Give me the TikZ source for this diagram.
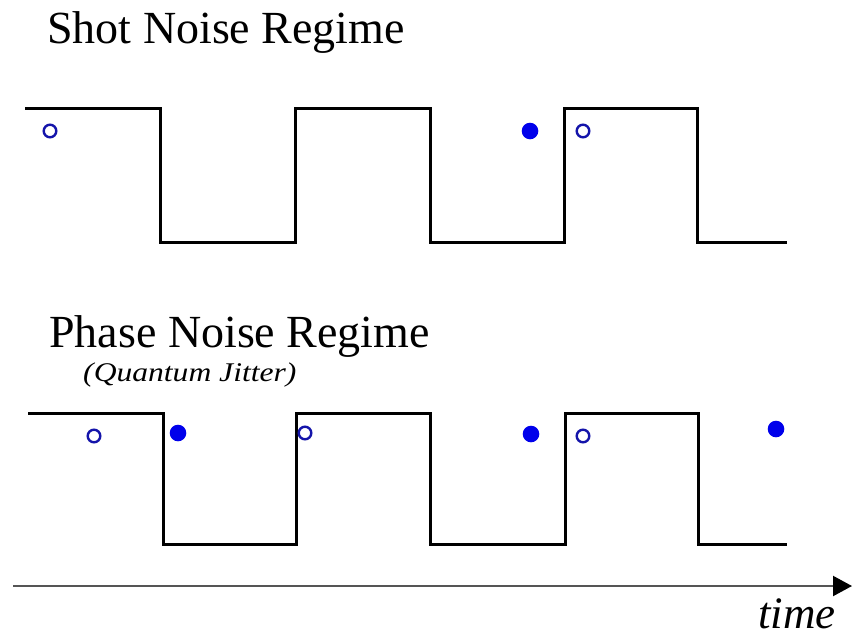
\documentclass[tikz,border=0pt]{standalone}
\usepackage{fontspec}
\setmainfont{Liberation Serif}
\usetikzlibrary{arrows.meta}
\definecolor{dotblue}{RGB}{0,0,235}
\definecolor{ringblue}{RGB}{20,20,170}
\definecolor{axisgray}{RGB}{85,85,85}
\tikzset{
  wave/.style={line width=3pt, black, line join=miter},
  ring/.style={draw=ringblue, line width=2.4pt, fill=white},
  dot/.style={fill=dotblue},
  title/.style={anchor=base west, inner sep=0pt, font=\fontsize{46}{50}\selectfont},
}
\begin{document}
\begin{tikzpicture}[x=1pt, y=-1pt]
\useasboundingbox (0,0) rectangle (855,638);
% titles
\node[title] (t1) at (47,43) {Shot Noise Regime};
\node[title] (t2) at (49,347) {Phase Noise Regime};
\node[anchor=base west, inner sep=0pt, font=\fontsize{27}{30}\selectfont\itshape, xscale=1.17] (t3) at (83,381) {(Quantum Jitter)};
% top waveform
\draw[wave] (25,108) -- (160,108) -- (160,242) -- (295,242) -- (295,108) -- (430,108) -- (430,242) -- (564,242) -- (564,108) -- (697,108) -- (697,242) -- (787,242);
% bottom waveform
\draw[wave] (28,413) -- (163,413) -- (163,544) -- (296,544) -- (296,413) -- (430,413) -- (430,544) -- (565,544) -- (565,413) -- (698,413) -- (698,544) -- (787,544);
% top markers
\draw[ring] (50,131) circle[radius=6.3];
\fill[dot] (530,131) circle[radius=8.3];
\draw[ring] (583,131) circle[radius=6.3];
% bottom markers
\draw[ring] (94,436) circle[radius=6.3];
\fill[dot] (178,433) circle[radius=8.3];
\draw[ring] (305,433) circle[radius=6.3];
\fill[dot] (531,434) circle[radius=8.3];
\draw[ring] (583,436) circle[radius=6.3];
\fill[dot] (776,429) circle[radius=8.3];
% time axis
\coordinate (a0) at (13,586);
\coordinate (a1) at (852,586);
\draw[axisgray, line width=2.2pt, -{Triangle[length=19pt,width=20pt,black]}] (a0) -- (a1);
\node[anchor=base east, inner sep=0pt, font=\fontsize{45}{50}\selectfont\itshape] (tl) at (836,628) {time};
\end{tikzpicture}
\end{document}
